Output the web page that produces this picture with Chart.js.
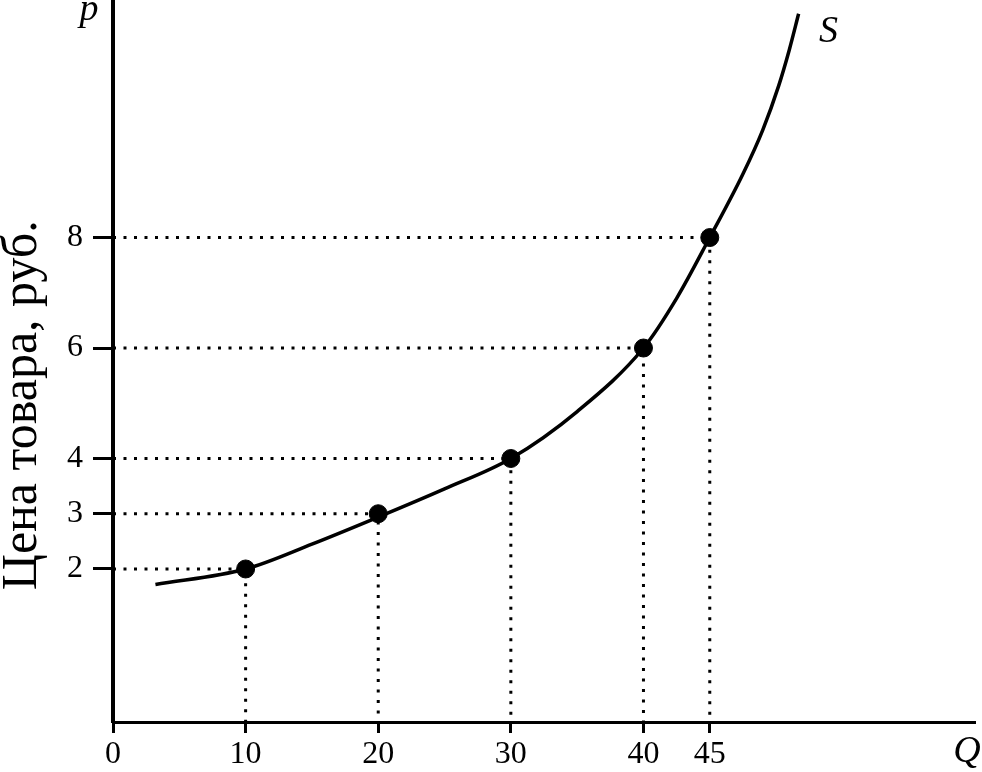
<!DOCTYPE html>
<html>
<head>
<meta charset="utf-8">
<script src="https://cdn.jsdelivr.net/npm/chart.js@4.4.1/dist/chart.umd.min.js"></script>
<style>
  html, body { margin: 0; padding: 0; background: #fff; }
  #wrap { width: 982px; height: 772px; }
</style>
</head>
<body>
<div id="wrap"><canvas id="c" width="982" height="772"></canvas></div>
<script>
// ---- data ----
const quantities = [10, 20, 30, 40, 45];          // Q at the marked points
const prices     = [2, 3, 4, 6, 8];               // p at the marked points
const curveQ = [3.2, 10, 15, 20, 25, 30, 35, 40, 42.5, 45, 47.5, 49, 50.2, 51, 51.7];
const curveP = [1.72, 2, 2.45, 2.94, 3.45, 4, 4.85, 6, 6.9, 8, 9.15, 9.95, 10.75, 11.4, 12.05];
const xTickValues = [0, 10, 20, 30, 40, 45];
const yTickValues = [2, 3, 4, 6, 8];
const yAxisTitle = 'Цена товара, руб.';
const curveLabel = 'S';
const xAxisLetter = 'Q';
const yAxisLetter = 'p';

const X_MIN = 0, X_MAX = 65;
const Y_MIN = -0.77, Y_MAX = 12.3;
const SERIF = '"Liberation Serif", "Times New Roman", serif';

const curveData = curveQ.map((q, i) => ({ x: q, y: curveP[i] }));
const pointData = quantities.map((q, i) => ({ x: q, y: prices[i] }));

const guideSets = quantities.map((q, i) => ({
  type: 'line',
  data: [{ x: X_MIN, y: prices[i] }, { x: q, y: prices[i] }, { x: q, y: Y_MIN }],
  borderColor: '#000',
  borderWidth: 3,
  borderDash: [3, 7.5],
  pointRadius: 0,
  tension: 0,
  fill: false,
  order: 3
}));

const textPlugin = {
  id: 'textPlugin',
  afterDraw(chart) {
    const ctx = chart.ctx;
    const xs = chart.scales.x, ys = chart.scales.y;
    const area = chart.chartArea;
    ctx.save();
    ctx.fillStyle = '#000';
    ctx.textAlign = 'center';
    ctx.textBaseline = 'middle';
    // axis letters
    ctx.font = 'italic 38px ' + SERIF;
    ctx.fillText(yAxisLetter, area.left - 24, 10);
    ctx.fillText(xAxisLetter, area.right - 8, area.bottom + 30);
    const last = curveData[curveData.length - 1];
    ctx.fillText(curveLabel, xs.getPixelForValue(last.x) + 30, ys.getPixelForValue(last.y) + 18);
    // y axis title
    ctx.translate(23, (ys.getPixelForValue(2) + ys.getPixelForValue(8)) / 2 + 2);
    ctx.rotate(-Math.PI / 2);
    ctx.font = '50px ' + SERIF;
    ctx.fillText(yAxisTitle, 0, 0);
    ctx.restore();
  }
};

new Chart(document.getElementById('c'), {
  type: 'scatter',
  data: {
    datasets: [
      ...guideSets,
      {
        type: 'line',
        label: 'S',
        data: curveData,
        borderColor: '#000',
        borderWidth: 3.5,
        pointRadius: 0,
        cubicInterpolationMode: 'monotone',
        fill: false,
        order: 2
      },
      {
        type: 'scatter',
        label: 'points',
        data: pointData,
        backgroundColor: '#000',
        borderColor: '#000',
        pointRadius: 9,
        order: 1
      }
    ]
  },
  options: {
    responsive: false,
    animation: false,
    events: [],
    layout: { autoPadding: false, padding: { left: 0, right: 7, top: 0, bottom: 0 } },
    plugins: { legend: { display: false }, tooltip: { enabled: false } },
    scales: {
      x: {
        type: 'linear',
        min: X_MIN, max: X_MAX,
        afterFit: s => { s.height = 50; s.paddingLeft = 0; s.paddingRight = 0; },
        afterBuildTicks: s => { s.ticks = xTickValues.map(v => ({ value: v })); },
        grid: { drawOnChartArea: false, drawTicks: true, tickLength: 11, tickWidth: 3, tickColor: '#000' },
        border: { display: true, color: '#000', width: 3 },
        ticks: { color: '#000', font: { family: SERIF, size: 32 }, padding: 2, maxRotation: 0, autoSkip: false }
      },
      y: {
        type: 'linear',
        min: Y_MIN, max: Y_MAX,
        afterFit: s => { s.width = 113; s.paddingTop = 0; s.paddingBottom = 0; },
        afterBuildTicks: s => { s.ticks = yTickValues.map(v => ({ value: v })); },
        grid: { drawOnChartArea: false, drawTicks: true, tickLength: 20, tickWidth: 3, tickColor: '#000' },
        border: { display: true, color: '#000', width: 4 },
        ticks: { color: '#000', font: { family: SERIF, size: 32 }, padding: 10, autoSkip: false }
      }
    }
  },
  plugins: [textPlugin]
});
</script>
</body>
</html>
